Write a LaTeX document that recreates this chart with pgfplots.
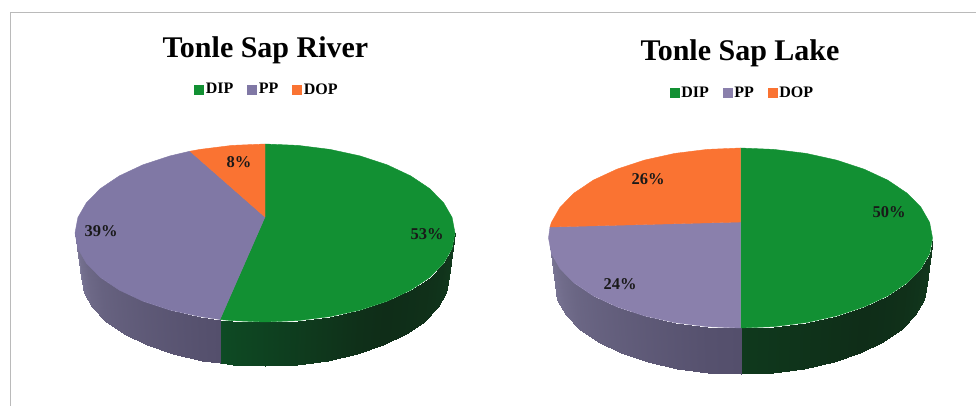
\documentclass[border=0pt]{standalone}
\usepackage{fontspec}
\setmainfont{Liberation Serif}
\usepackage{pgfplots}
\pgfplotsset{compat=1.18}
\definecolor{dip}{RGB}{18,144,51}
\definecolor{ppa}{RGB}{128,120,165}
\definecolor{ppb}{RGB}{138,128,172}
\definecolor{dop}{RGB}{250,115,50}
\tikzset{lab/.style={font=\fontsize{16.5}{17}\selectfont\bfseries, text=black!90, inner sep=0pt}}
\pgfplotsset{
  pie/.style={
    scale only axis, width=488pt, height=406pt,
    ymin=0, ymax=406, y dir=reverse, hide axis, clip=false,
    point meta min=0, point meta max=20,
    colormap={side}{rgb255(0)=(125,121,152) rgb255(10)=(84,79,108) rgb255(11)=(14,75,36) rgb255(16)=(15,45,24) rgb255(20)=(18,58,30)},
    every axis title shift=0pt,
    title style={anchor=base, font=\fontsize{30}{30}\selectfont\bfseries, inner sep=0pt, text=black},
    legend columns=3,
    legend cell align=left,
    legend style={draw=none, fill=none, font=\fontsize{16}{16}\selectfont\bfseries,
      /tikz/every even column/.append style={column sep=12pt}, inner sep=0pt,
      nodes={inner xsep=2pt, inner ysep=0pt}},
    legend image code/.code={\fill[##1] (0pt,-4.5pt) rectangle (9pt,4.5pt);},
  },
  strip/.style={patch, patch type=rectangle, shader=interp, point meta=explicit, forget plot},
}
\begin{document}
\begin{tikzpicture}[x=1pt,y=1pt]
\path[use as bounding box] (0,0) rectangle (976,406);
\begin{axis}[pie, at={(0pt,0pt)}, anchor=south west, xmin=0, xmax=488,
  title={Tonle Sap River}, title style={at={(axis cs:265.5,57.5)}},
  legend style={at={(axis cs:267,89.5)}, anchor=center}]
\addplot[strip] coordinates {
(455,233)[20] (452.1,248.5)[19] (446.2,292.5)[19] (449,277)[20]
(452.1,248.5)[19] (443.5,263.4)[18] (437.9,307.4)[18] (446.2,292.5)[19]
(443.5,263.4)[18] (429.5,277.5)[17] (424.3,321.5)[17] (437.9,307.4)[18]
(429.5,277.5)[17] (410.5,290.2)[16.5] (405.9,334.2)[16.5] (424.3,321.5)[17]
(410.5,290.2)[16.5] (387.1,301.2)[16] (383.3,345.2)[16] (405.9,334.2)[16.5]
(387.1,301.2)[16] (360,310.1)[15.5] (357,354.1)[15.5] (383.3,345.2)[16]
(360,310.1)[15.5] (330,316.6)[14.5] (327.9,360.6)[14.5] (357,354.1)[15.5]
(330,316.6)[14.5] (298,320.6)[13.5] (296.9,364.6)[13.5] (327.9,360.6)[14.5]
(298,320.6)[13.5] (265,322)[12.5] (265,366)[12.5] (296.9,364.6)[13.5]
(265,322)[12.5] (232,320.6)[11.5] (233.1,364.6)[11.5] (265,366)[12.5]
(232,320.6)[11.5] (220,319.5)[11] (220,363.3)[11] (233.1,364.6)[11.5]
(220,319.5)[10] (200,316.6)[9.5] (202.1,360.6)[9.5] (220,363.3)[10]
(200,316.6)[9.5] (170,310.1)[8.5] (173,354.1)[8.5] (202.1,360.6)[9.5]
(170,310.1)[8.5] (142.9,301.2)[7.5] (146.7,345.2)[7.5] (173,354.1)[8.5]
(142.9,301.2)[7.5] (119.5,290.2)[6.5] (124.1,334.2)[6.5] (146.7,345.2)[7.5]
(119.5,290.2)[6.5] (100.5,277.5)[5.5] (105.7,321.5)[5.5] (124.1,334.2)[6.5]
(100.5,277.5)[5.5] (86.5,263.4)[4] (92.1,307.4)[4] (105.7,321.5)[5.5]
(86.5,263.4)[4] (77.9,248.5)[2] (83.8,292.5)[2] (92.1,307.4)[4]
(77.9,248.5)[2] (75,233)[0] (81,277)[0] (83.8,292.5)[2]
};
\addplot[fill=dip, draw=dip] coordinates {
(265,217) (265,144) (298,145.4) (330,149.4) (360,155.9) (387.1,164.8) (410.5,175.8)
(429.5,188.5) (443.5,202.6) (452.1,217.5) (455,233) (452.1,248.5) (443.5,263.4)
(429.5,277.5) (410.5,290.2) (387.1,301.2) (360,310.1) (330,316.6) (298,320.6)
(265,322) (232,320.6) (220,319.5) (265,217)};
\addlegendentry{DIP}
\addplot[fill=ppa, draw=ppa] coordinates {
(265,217) (220,319.5) (200,316.6) (170,310.1) (142.9,301.2) (119.5,290.2) (100.5,277.5)
(86.5,263.4) (77.9,248.5) (75,233) (77.9,217.5) (86.5,202.6) (100.5,188.5) (119.5,175.8)
(142.9,164.8) (170,155.9) (190,151.2) (265,217)};
\addlegendentry{PP}
\addplot[fill=dop, draw=dop] coordinates {
(265,217) (190,151.2) (200,149.4) (232,145.4) (265,144) (265,217)};
\addlegendentry{DOP}
\node[lab] at (axis cs:239,162) {8\%};
\node[lab] at (axis cs:101,231) {39\%};
\node[lab] at (axis cs:427,234) {53\%};
\end{axis}
\begin{axis}[pie, at={(488pt,0pt)}, anchor=south west, xmin=488, xmax=976,
  title={Tonle Sap Lake}, title style={at={(axis cs:740,60.5)}},
  legend style={at={(axis cs:742.5,93)}, anchor=center}]
\addplot[strip] coordinates {
(932.5,238)[20] (929.6,253.6)[19] (923.7,299.6)[19] (926.5,284)[20]
(929.6,253.6)[19] (920.9,268.8)[18] (915.3,314.8)[18] (923.7,299.6)[19]
(920.9,268.8)[18] (906.8,283)[17] (901.6,329)[17] (915.3,314.8)[18]
(906.8,283)[17] (887.6,295.9)[16.5] (883,341.9)[16.5] (901.6,329)[17]
(887.6,295.9)[16.5] (863.9,306.9)[16] (860.1,352.9)[16] (883,341.9)[16.5]
(863.9,306.9)[16] (836.5,315.9)[15.5] (833.5,361.9)[15.5] (860.1,352.9)[16]
(836.5,315.9)[15.5] (806.2,322.6)[15] (804.1,368.6)[15] (833.5,361.9)[15.5]
(806.2,322.6)[15] (773.8,326.6)[14.5] (772.8,372.6)[14.5] (804.1,368.6)[15]
(773.8,326.6)[14.5] (740.5,328)[14] (740.5,374)[14] (772.8,372.6)[14.5]
(740.5,328)[10] (707.2,326.6)[9.5] (708.2,372.6)[9.5] (740.5,374)[10]
(707.2,326.6)[9.5] (674.8,322.6)[8.5] (676.9,368.6)[8.5] (708.2,372.6)[9.5]
(674.8,322.6)[8.5] (644.5,315.9)[7.5] (647.5,361.9)[7.5] (676.9,368.6)[8.5]
(644.5,315.9)[7.5] (617.1,306.9)[6.5] (620.9,352.9)[6.5] (647.5,361.9)[7.5]
(617.1,306.9)[6.5] (593.4,295.9)[5.5] (598,341.9)[5.5] (620.9,352.9)[6.5]
(593.4,295.9)[5.5] (574.2,283)[4.5] (579.4,329)[4.5] (598,341.9)[5.5]
(574.2,283)[4.5] (560.1,268.8)[3] (565.7,314.8)[3] (579.4,329)[4.5]
(560.1,268.8)[3] (551.4,253.6)[1.5] (557.3,299.6)[1.5] (565.7,314.8)[3]
(551.4,253.6)[1.5] (548.5,238)[0] (554.5,284)[0] (557.3,299.6)[1.5]
};
\addplot[fill=dip, draw=dip] coordinates {
(740.5,222) (740.5,148) (773.8,149.4) (806.2,153.4) (836.5,160.1) (863.9,169.1) (887.6,180.1)
(906.8,193) (920.9,207.2) (929.6,222.4) (932.5,238) (929.6,253.6) (920.9,268.8) (906.8,283)
(887.6,295.9) (863.9,306.9) (836.5,315.9) (806.2,322.6) (773.8,326.6) (740.5,328) (740.5,222)};
\addlegendentry{DIP}
\addplot[fill=ppb, draw=ppb] coordinates {
(740.5,222) (740.5,328) (707.2,326.6) (674.8,322.6) (644.5,315.9) (617.1,306.9) (593.4,295.9)
(574.2,283) (560.1,268.8) (551.4,253.6) (548.5,238) (550,227) (740.5,222)};
\addlegendentry{PP}
\addplot[fill=dop, draw=dop] coordinates {
(740.5,222) (550,227) (551.4,222.4) (560.1,207.2) (574.2,193) (593.4,180.1) (617.1,169.1)
(644.5,160.1) (674.8,153.4) (707.2,149.4) (740.5,148) (740.5,222)};
\addlegendentry{DOP}
\node[lab] at (axis cs:648,179) {26\%};
\node[lab] at (axis cs:620,284) {24\%};
\node[lab] at (axis cs:889,212) {50\%};
\end{axis}
\draw[color=black!27, line width=1pt] (10.5,0) -- (10.5,393) -- (976,393);
\end{tikzpicture}
\end{document}
